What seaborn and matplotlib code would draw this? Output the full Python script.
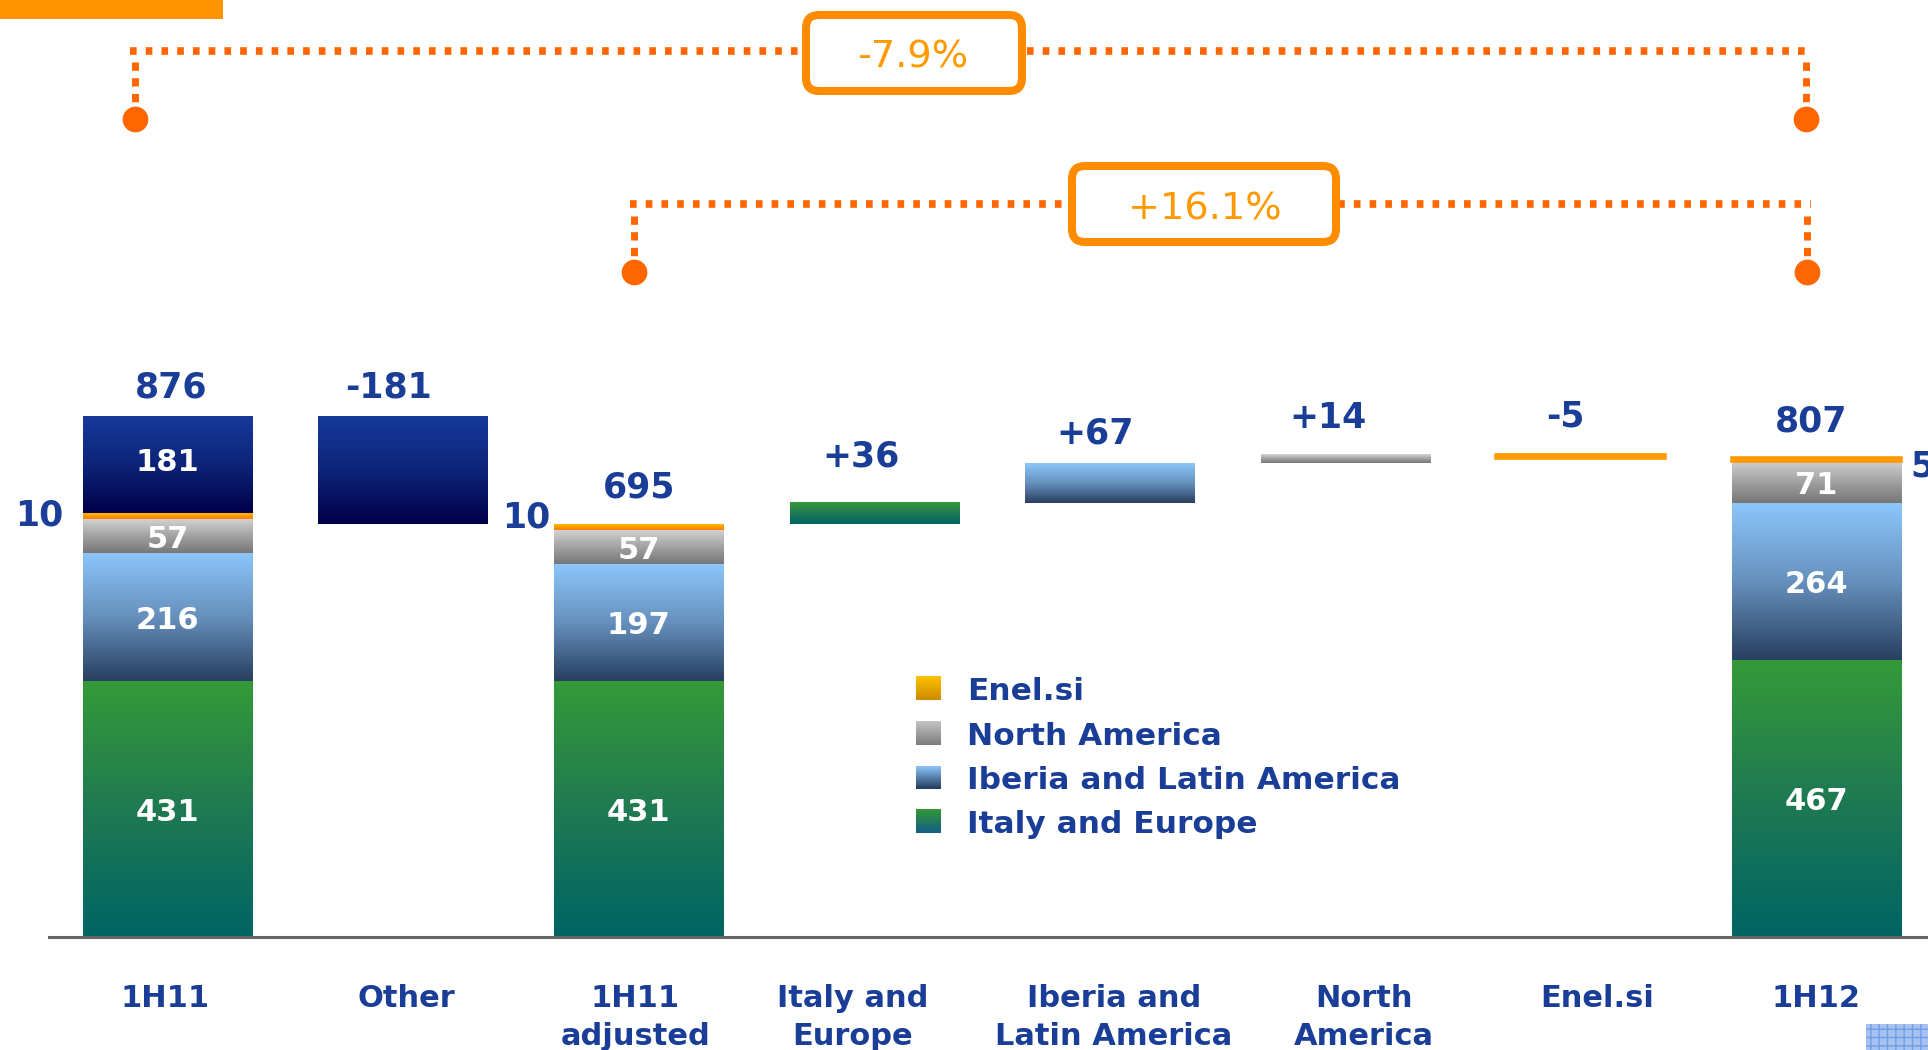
import numpy as np
import pandas as pd
import matplotlib
matplotlib.use("Agg")
import matplotlib.pyplot as plt
import seaborn as sns
from matplotlib.colors import LinearSegmentedColormap
from matplotlib.patches import Rectangle, FancyBboxPatch
from matplotlib.lines import Line2D
from matplotlib.transforms import ScaledTranslation

# ---------------- data ----------------
categories = ["1H11", "Other", "1H11\nadjusted", "Italy and\nEurope",
              "Iberia and\nLatin America", "North\nAmerica", "Enel.si", "1H12"]
regions = ["Italy and Europe", "Iberia and Latin America", "North America", "Enel.si"]
h1_2011 = [431, 216, 57, 10]
h1_2011_adj = [431, 197, 57, 10]
h1_2012 = [467, 264, 71, 5]
total_2011 = 876
total_2011_adj = 695
total_2012 = 807
other_change = -181
region_changes = [36, 67, 14, -5]
pct_vs_1h11 = "-7.9%"
pct_vs_adj = "+16.1%"

# ---------------- style ----------------
sns.set_theme(style="white")
plt.rcParams["font.family"] = ["DejaVu Sans"]

BLUE = "#1a3e98"
W, H = 1928, 1050
bar_width = 0.718

grad_stops = {
    "Italy and Europe": ["#359a38", "#1f7a52", "#006464"],
    "Iberia and Latin America": ["#8cc6fa", "#6690bd", "#283f60"],
    "North America": ["#d2d2d2", "#a2a2a2", "#767676"],
    "Enel.si": ["#ffba00", "#ff9a00", "#ff7a00"],
    "Other": ["#163a9c", "#0d2478", "#00004a"],
}
legend_stops = {
    "Enel.si": ["#ffc200", "#cc8a00"],
    "North America": ["#c4c4c4", "#7c7c7c"],
    "Iberia and Latin America": ["#8cc6fa", "#223a5c"],
    "Italy and Europe": ["#339933", "#135c88"],
}


def cmap_of(stops):
    return LinearSegmentedColormap.from_list("g", stops)


fig = plt.figure(figsize=(W / 100, H / 100), dpi=100)
ax = fig.add_axes([49 / W, (H - 937) / H, (W - 49) / W, 937 / H])

# ---------------- build stacked / waterfall layers ----------------
n = len(categories)
layer_names = regions + ["Other"]
layer_h, layer_b = [], []
for r in range(len(regions)):
    hts = np.zeros(n)
    bts = np.zeros(n)
    hts[0], bts[0] = h1_2011[r], sum(h1_2011[:r])
    hts[2], bts[2] = h1_2011_adj[r], sum(h1_2011_adj[:r])
    hts[7], bts[7] = h1_2012[r], sum(h1_2012[:r])
    hts[3 + r] = region_changes[r]
    bts[3 + r] = total_2011_adj + sum(region_changes[:r])
    layer_h.append(hts)
    layer_b.append(bts)
hts = np.zeros(n)
bts = np.zeros(n)
hts[0], bts[0] = total_2011 - sum(h1_2011), sum(h1_2011)
hts[1], bts[1] = -other_change, total_2011 + other_change
layer_h.append(hts)
layer_b.append(bts)

arr = np.linspace(0, 1, 256).reshape(-1, 1)
for name, hts, bts in zip(layer_names, layer_h, layer_b):
    df = pd.DataFrame({"category": categories, "value": hts})
    sns.barplot(data=df, x="category", y="value", order=categories,
                bottom=list(bts), width=bar_width, errorbar=None,
                color=grad_stops[name][0], saturation=1, linewidth=0, ax=ax)
    for p in ax.containers[-1]:
        h = p.get_height()
        if h == 0:
            continue
        x0, w, y0 = p.get_x(), p.get_width(), p.get_y()
        lo, hi = min(y0, y0 + h), max(y0, y0 + h)
        ax.imshow(arr, cmap=cmap_of(grad_stops[name]), extent=[x0, x0 + w, lo, hi],
                  origin="upper", aspect="auto", interpolation="bilinear", zorder=2)
        if abs(h) < 8:
            # very thin slices keep a minimum visible thickness
            p.set_facecolor(grad_stops[name][1])
            p.set_edgecolor(grad_stops[name][1])
            p.set_linewidth(2.6)
            p.set_zorder(2.5)
        else:
            p.set_facecolor("none")
            p.set_edgecolor("none")

# ---------------- value labels ----------------
step_tops = [max(b, b + h) for b, h in zip(
    [total_2011_adj + sum(region_changes[:r]) for r in range(4)], region_changes)]
top_vals = [total_2011, total_2011, total_2011_adj] + step_tops + [total_2012]
top_texts = [str(total_2011), f"{other_change:+d}", str(total_2011_adj)] + \
            [f"{c:+d}" for c in region_changes] + [str(total_2012)]
top_dy = [14.4, 14.4, 19.1, 26.6, 14.0, 19.5, 20.5, 18.8]
top_dx = [2.7, -10.6, 0, -9.7, -10.6, -12.4, -11.5, -3.5]
for i, (yv, t, dx, dy) in enumerate(zip(top_vals, top_texts, top_dx, top_dy)):
    ax.annotate(t, xy=(i, yv), xytext=(dx, dy), textcoords="offset points",
                ha="center", va="baseline", fontsize=25, fontweight="bold", color=BLUE)

# inside white labels
for col, segs in [(0, h1_2011), (2, h1_2011_adj), (7, h1_2012)]:
    cum = 0
    for k, v in enumerate(segs[:3]):
        ax.text(col, cum + v / 2, str(v), ha="center", va="center_baseline",
                fontsize=22, fontweight="bold", color="white", zorder=5)
        cum += v
ax.text(0, sum(h1_2011) + (-other_change) / 2, str(-other_change),
        ha="center", va="center_baseline", fontsize=22, fontweight="bold",
        color="white", zorder=5)

# side labels for the small Enel.si segments
for col, segs, dx, dy, side in [(0, h1_2011, -14.4, -6.5, "right"),
                                (2, h1_2011_adj, -2.9, 0, "right"),
                                (7, h1_2012, 6.5, -12, "left")]:
    yc = sum(segs[:3]) + segs[3] / 2
    xe = col - bar_width / 2 if side == "right" else col + bar_width / 2
    ax.annotate(str(segs[3]), xy=(xe, yc), xytext=(dx, dy), textcoords="offset points",
                ha=side, va="baseline", fontsize=25, fontweight="bold", color=BLUE,
                annotation_clip=False)

# ---------------- axes styling ----------------
ax.set_xlim(-0.503, 7.4734)
ax.set_ylim(0, 937 / 0.5936)
ax.set_yticks([])
ax.set_xlabel("")
ax.set_ylabel("")
for s in ["left", "top", "right"]:
    ax.spines[s].set_visible(False)
ax.spines["bottom"].set_color("#666666")
ax.spines["bottom"].set_linewidth(2.2)
ax.tick_params(axis="x", length=0, pad=33.5, labelsize=22)
label_dx_px = [-2.5, 3, -3.5, -22, 4, 18.5, 16, 0]
for lab, dxp in zip(ax.get_xticklabels(), label_dx_px):
    lab.set_fontweight("bold")
    lab.set_color(BLUE)
    lab.set_linespacing(1.4)
    lab.set_transform(lab.get_transform() +
                      ScaledTranslation(dxp / 100, 0, fig.dpi_scale_trans))
ax.patch.set_alpha(0)

# ---------------- legend (gradient swatches) ----------------
legend_rows = [("Enel.si", 676, 700), ("North America", 721, 745),
               ("Iberia and Latin America", 766, 789), ("Italy and Europe", 809, 833)]
for name, yt, yb in legend_rows:
    sw = fig.add_axes([916 / W, 1 - yb / H, 24.5 / W, (yb - yt) / H])
    sw.imshow(arr, cmap=cmap_of(legend_stops[name]), aspect="auto", extent=[0, 1, 0, 1])
    sw.axis("off")
    fig.text(967 / W, 1 - yb / H, name, ha="left", va="baseline", fontsize=22.5,
             fontweight="bold", color=BLUE)

# ---------------- growth brackets ----------------
tr = fig.dpi_scale_trans


def P(x, y):
    return x / 100, (H - y) / 100


LINE_OR = "#ff6600"


def seg(x0, y0, x1, y1, lw, dashes):
    (a, b), (c, d) = P(x0, y0), P(x1, y1)
    fig.add_artist(Line2D([a, c], [b, d], transform=tr, color=LINE_OR, lw=lw,
                          dashes=dashes, dash_capstyle="butt", zorder=4))


def dot(x, y):
    a, b = P(x, y)
    fig.add_artist(Line2D([a], [b], transform=tr, marker="o", markersize=17.5,
                          color=LINE_OR, linestyle="none", zorder=4))


def box(x0, y0, x1, y1, text, xt, yt):
    a, b = P(x0, y1)
    fig.add_artist(FancyBboxPatch((a, b), (x1 - x0) / 100, (y1 - y0) / 100,
                                  boxstyle="round,pad=0,rounding_size=0.13", transform=tr,
                                  fc="white", ec="#ff8c00", lw=5.8, zorder=5))
    fig.text(xt / W, 1 - yt / H, text, ha="center", va="baseline", fontsize=27.5,
             color="#ff9900", zorder=6)


# bracket 1H11 -> 1H12
seg(130, 50.5, 1810, 50.5, 5.5, (0.87, 1.19))
seg(134.7, 61.5, 134.7, 102, 5.0, (1.2, 1.06))
seg(1805.7, 61.5, 1805.7, 102, 5.0, (1.2, 1.06))
dot(134.7, 118.5)
dot(1805.7, 118.5)
box(806, 15, 1022, 91, pct_vs_1h11, 913, 67)

# bracket 1H11 adjusted -> 1H12
seg(630, 204, 1811, 204, 5.5, (0.87, 1.19))
seg(634, 216, 634, 256, 5.0, (1.2, 1.06))
seg(1806.8, 216, 1806.8, 256, 5.0, (1.2, 1.06))
dot(634, 271.7)
dot(1807, 271.7)
box(1072, 166, 1336, 242, pct_vs_adj, 1204.5, 219.5)

# ---------------- decorations ----------------
fig.add_artist(Rectangle(P(0, 19), 2.23, 0.19, transform=tr, fc="#ff9400", ec="none"))
fig.add_artist(Rectangle(P(1866, 1050), 0.62, 0.26, transform=tr, fc="#a7c2f0",
                         ec="#6f9de6", hatch="++", lw=0))

fig.savefig("out.png", dpi=100)
